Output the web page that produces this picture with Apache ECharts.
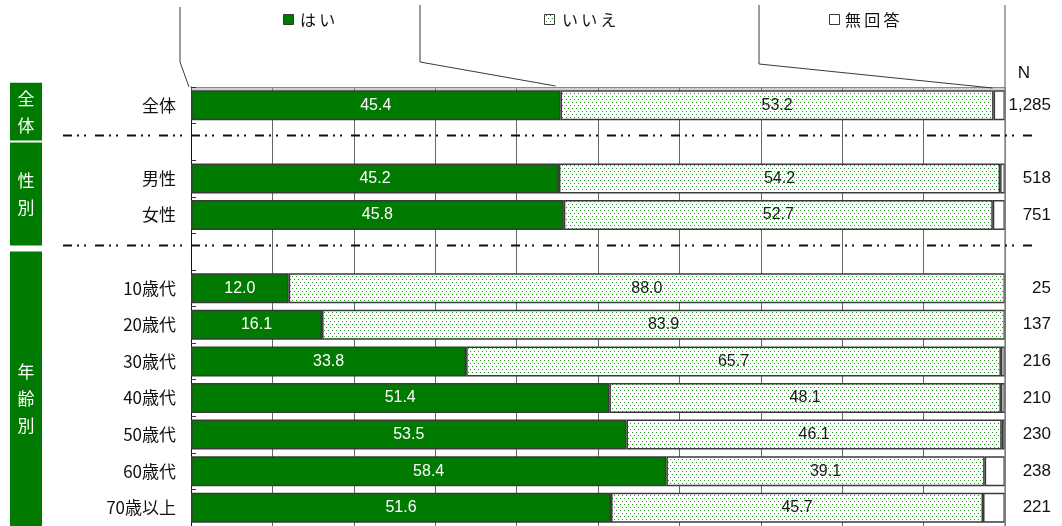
<!DOCTYPE html>
<html>
<head>
<meta charset="utf-8">
<script src="https://cdn.jsdelivr.net/npm/echarts@6/dist/echarts.min.js"></script>
<style>
  html, body { margin: 0; padding: 0; background: #fff; }
  #chart { width: 1062px; height: 526px; }
</style>
</head>
<body>
<div id="chart"></div>
<script>
// Row categories (blank rows separate the groups)
const categories = ['全体', ' ', '男性', '女性', '  ', '10歳代', '20歳代', '30歳代', '40歳代', '50歳代', '60歳代', '70歳以上'];
// Percentages per answer
const yesValues = [45.4, '-', 45.2, 45.8, '-', 12.0, 16.1, 33.8, 51.4, 53.5, 58.4, 51.6];
const noValues = [53.2, '-', 54.2, 52.7, '-', 88.0, 83.9, 65.7, 48.1, 46.1, 39.1, 45.7];
const naValues = [1.4, '-', 0.6, 1.5, '-', 0.0, 0.0, 0.5, 0.5, 0.4, 2.5, 2.7];
// Respondent counts
const nLabels = ['1,285', '', '518', '751', '', '25', '137', '216', '210', '230', '238', '221'];
const seriesNames = ['はい', 'いいえ', '無回答'];
const xTicks = [0, 10, 20, 30, 40, 50, 60, 70, 80, 90, 100];
// Group headings: label, first row index, last row index
const groups = [
  { label: '全体', from: 0, to: 0 },
  { label: '性別', from: 2, to: 3 },
  { label: '年齢別', from: 5, to: 11 }
];

const GREEN = '#007a00';
const EDGE = '#3a3a3a';
const FONT = '"Noto Sans CJK JP", "Noto Sans", sans-serif';
const NUMFONT = '"Liberation Sans", Arial, sans-serif';

// Dotted fill used for the "いいえ" segments
function makeDots() {
  const c = document.createElement('canvas');
  c.width = 4; c.height = 6;
  const g = c.getContext('2d');
  g.fillStyle = '#ffffff';
  g.fillRect(0, 0, 4, 6);
  g.fillStyle = '#1f9a1f';
  g.fillRect(0, 0, 1, 1);
  g.fillRect(2, 3, 1, 1);
  return c;
}
const dotCanvas = makeDots();
const dotFill = { image: dotCanvas, repeat: 'repeat' };

const chart = echarts.init(document.getElementById('chart'), null, { renderer: 'canvas' });

const ROW = 37;
const GRID_TOP = 87;

const option = {
  animation: false,
  backgroundColor: '#ffffff',
  grid: { left: 191, right: 57, top: GRID_TOP, height: ROW * categories.length, containLabel: false },
  xAxis: {
    type: 'value', min: xTicks[0], max: xTicks[xTicks.length - 1], interval: 10,
    position: 'top',
    axisLabel: { show: false },
    axisTick: { show: false },
    axisLine: { show: true, lineStyle: { color: '#8a8a8a', width: 1 } },
    splitLine: { show: true, lineStyle: { color: '#666', width: 1 } }
  },
  yAxis: [
    {
      type: 'category', data: categories, inverse: true,
      axisLine: { show: true, lineStyle: { color: '#111', width: 1 } },
      axisTick: { show: true, inside: true, length: 5, interval: 0, lineStyle: { color: '#333' } },
      axisLabel: { margin: 15, color: '#111', fontSize: 17, fontFamily: FONT, interval: 0 }
    },
    {
      type: 'category', data: nLabels, inverse: true, position: 'right',
      axisLine: { show: false }, axisTick: { show: false },
      axisLabel: { margin: 46, align: 'right', color: '#111', fontSize: 17, fontFamily: NUMFONT, interval: 0 }
    }
  ],
  series: [
    {
      name: seriesNames[0], type: 'bar', stack: 'all', data: yesValues, barWidth: 30,
      itemStyle: { color: GREEN, borderColor: EDGE, borderWidth: 1.5 },
      label: { show: true, position: 'inside', color: '#fff', fontSize: 16, fontFamily: NUMFONT,
        formatter: p => Number(p.value).toFixed(1) },
      z: 3
    },
    {
      name: seriesNames[1], type: 'bar', stack: 'all', data: noValues, barWidth: 30,
      itemStyle: { color: dotFill, borderColor: EDGE, borderWidth: 1.5 },
      label: { show: true, position: 'inside', color: '#1a1a1a', fontSize: 16, fontFamily: NUMFONT,
        formatter: p => Number(p.value).toFixed(1) },
      z: 3
    },
    {
      name: seriesNames[2], type: 'bar', stack: 'all', data: naValues, barWidth: 30,
      itemStyle: { color: '#ffffff', borderColor: EDGE, borderWidth: 1.5 },
      label: { show: false },
      z: 3
    }
  ]
};

chart.setOption(option);

function px(x, rowIdx) {
  return chart.convertToPixel({ gridIndex: 0 }, [x, rowIdx]);
}

function buildGraphics() {
  const els = [];
  const x0 = px(0, 0)[0];
  const x100 = px(100, 0)[0];
  const rowTop = i => px(0, i)[1] - ROW / 2;

  // second thin line just under the top axis
  els.push({ type: 'line', shape: { x1: x0, y1: GRID_TOP + 2, x2: x100, y2: GRID_TOP + 2 },
    style: { stroke: '#a0a0a0', lineWidth: 1 }, z: 2 });

  // right edge of the 100% scale, running up to the legend
  els.push({ type: 'line', shape: { x1: x100, y1: 5, x2: x100, y2: 540 },
    style: { stroke: '#8a8a8a', lineWidth: 1.5 }, z: 4 });

  // dash-dot separators between groups
  const sepY = [];
  categories.forEach((c, i) => {
    if (c.trim() === '') {
      const y = Math.round(rowTop(i) + 12) + 0.5;
      sepY[i] = y;
      els.push({ type: 'line', shape: { x1: 63, y1: y, x2: 1033, y2: y },
        style: { stroke: '#111', lineWidth: 1.8, lineDash: [9, 5, 2, 5, 2, 9] }, z: 5 });
    }
  });

  // green group headings on the left
  const boxTop = [rowTop(0) - 4, sepY[1] + 7, sepY[4] + 6];
  const boxBottom = [sepY[1] + 5, sepY[4], 545];
  groups.forEach((g, k) => {
    const t = boxTop[k], b = boxBottom[k];
    els.push({ type: 'rect', shape: { x: 10, y: t, width: 32, height: b - t },
      style: { fill: GREEN }, z: 5 });
    els.push({ type: 'text', x: 26, y: (t + b) / 2,
      style: { text: g.label.split('').join('\n'), fill: '#fff', font: '17px ' + FONT,
        align: 'center', verticalAlign: 'middle', lineHeight: 27 }, z: 6 });
  });

  // legend
  const legend = [
    { x: 283, textX: 300, fill: GREEN },
    { x: 544, textX: 562, fill: dotFill },
    { x: 829, textX: 845, fill: '#ffffff' }
  ];
  legend.forEach((l, i) => {
    els.push({ type: 'rect', shape: { x: l.x + 0.5, y: 14.5, width: 10, height: 10 },
      style: { fill: l.fill, stroke: EDGE, lineWidth: 1 }, z: 6 });
    els.push({ type: 'text', x: l.textX, y: 20,
      style: { text: seriesNames[i].split('').join('\u2009'), fill: '#111', font: '16px ' + FONT,
        verticalAlign: 'middle' }, z: 6 });
  });

  // leader lines from the legend down to the 全体 bar segments
  const segStarts = [0, yesValues[0], yesValues[0] + noValues[0]];
  const leaders = [
    { x: 180, top: 7, knee: 62, dx: -2, endY: 87 },
    { x: 420, top: 5, knee: 62, dx: -5, endY: 86 },
    { x: 759, top: 5, knee: 64, dx: -1, endY: 88 }
  ];
  leaders.forEach((l, i) => {
    const ex = px(segStarts[i], 0)[0] + l.dx;
    els.push({ type: 'polyline', shape: { points: [[l.x, l.top], [l.x, l.knee], [ex, l.endY]] },
      style: { stroke: '#3a3a3a', lineWidth: 1, fill: null }, z: 6 });
  });

  // header of the count column
  els.push({ type: 'text', x: 1024, y: 73,
    style: { text: 'N', fill: '#111', font: '17px ' + NUMFONT, align: 'center', verticalAlign: 'middle' }, z: 6 });

  chart.setOption({ graphic: { elements: els } });
}

buildGraphics();
</script>
</body>
</html>
